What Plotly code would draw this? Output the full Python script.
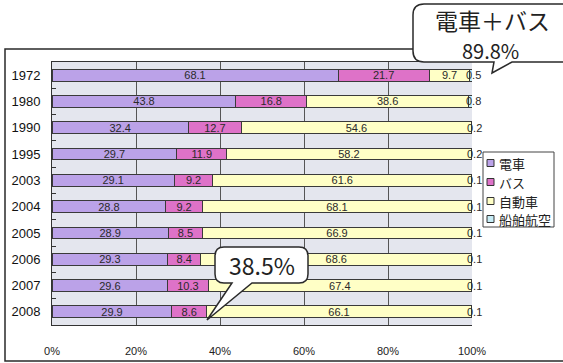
import plotly.graph_objects as go

# Share of passenger transport by mode (percent), per year
years = ["1972", "1980", "1990", "1995", "2003", "2004", "2005", "2006", "2007", "2008"]
train = [68.1, 43.8, 32.4, 29.7, 29.1, 28.8, 28.9, 29.3, 29.6, 29.9]
bus = [21.7, 16.8, 12.7, 11.9, 9.2, 9.2, 8.5, 8.4, 10.3, 8.6]
car = [9.7, 38.6, 54.6, 58.2, 61.6, 68.1, 66.9, 68.6, 67.4, 66.1]
ship_air = [0.5, 0.8, 0.2, 0.2, 0.1, 0.1, 0.1, 0.1, 0.1, 0.1]

series_names = ["電車", "バス", "自動車", "船舶航空"]
series_values = [train, bus, car, ship_air]
series_colors = ["#bba2e8", "#de72c8", "#ffffc6", "#c6ecf6"]

x_ticks = [0, 20, 40, 60, 80, 100]
x_tick_labels = [f"{v}%" for v in x_ticks]

W, H = 563, 363
L, R, T, B = 52, 91, 62, 38
PW, PH = W - L - R, H - T - B


def px(x):
    return (x - L) / PW


def py(y):
    return (H - B - y) / PH


def callout_path(x0, y0, x1, y1, r, base_a, base_b, tip):
    """Rounded box with a speech pointer leaving the bottom edge."""
    pts = [
        f"M {px(x0 + r)},{py(y0)}",
        f"L {px(x1 - r)},{py(y0)}",
        f"Q {px(x1)},{py(y0)} {px(x1)},{py(y0 + r)}",
        f"L {px(x1)},{py(y1 - r)}",
        f"Q {px(x1)},{py(y1)} {px(x1 - r)},{py(y1)}",
        f"L {px(base_b)},{py(y1)}",
        f"L {px(tip[0])},{py(tip[1])}",
        f"L {px(base_a)},{py(y1)}",
        f"L {px(x0 + r)},{py(y1)}",
        f"Q {px(x0)},{py(y1)} {px(x0)},{py(y1 - r)}",
        f"L {px(x0)},{py(y0 + r)}",
        f"Q {px(x0)},{py(y0)} {px(x0 + r)},{py(y0)}",
        "Z",
    ]
    return " ".join(pts)


label_font = dict(family="Liberation Sans, Arial", size=11, color="#2a2a2a")
cjk = "Noto Sans CJK JP"

fig = go.Figure()
for i, (name, vals, color) in enumerate(zip(series_names, series_values, series_colors)):
    last = i == len(series_names) - 1
    fig.add_trace(go.Bar(
        y=years, x=vals, name=name, orientation="h",
        marker=dict(color=color, line=dict(color="#3a3a3a", width=1)),
        text=None if last else [f"{v:.1f}" for v in vals],
        textposition="none" if last else "inside",
        insidetextanchor="middle", constraintext="none",
        textfont=label_font,
        hoverinfo="skip",
    ))

# labels for the thin last segment, centred on it (bars are normalised to 100%)
annotations = []
for j, yr in enumerate(years):
    total = sum(s[j] for s in series_values)
    before = sum(s[j] for s in series_values[:-1])
    centre = (before + ship_air[j] / 2) / total * 100
    annotations.append(dict(
        x=centre, y=j, xref="x", yref="y", text=f"{ship_air[j]:.1f}",
        showarrow=False, xanchor="center", yanchor="middle", xshift=3,
        font=label_font,
    ))

shapes = [
    # outer chart frame
    dict(type="rect", xref="paper", yref="paper",
         x0=px(5), y0=py(361), x1=px(590), y1=py(49),
         line=dict(color="#2a2a2a", width=1.5), layer="below"),
    # callout: train + bus share in 1972
    dict(type="path", xref="paper", yref="paper",
         path=callout_path(413, 4, 585, 62, 11, 494, 512, (492, 73)),
         fillcolor="white", line=dict(color="#2a2a2a", width=1.5), layer="above"),
    # callout: train + bus share in 2008
    dict(type="path", xref="paper", yref="paper",
         path=callout_path(215, 247, 308, 283, 9, 232, 252, (207, 320)),
         fillcolor="white", line=dict(color="#2a2a2a", width=1.5), layer="above"),
    # legend box
    dict(type="rect", xref="paper", yref="paper",
         x0=px(483), y0=py(227), x1=px(554), y1=py(152),
         fillcolor="white", line=dict(color="#444444", width=1), layer="above"),
]

# legend entries: swatch + name
legend_rows = [163, 182, 201, 219]
for name, color, row in zip(series_names, series_colors, legend_rows):
    shapes.append(dict(
        type="rect", xref="paper", yref="paper",
        x0=px(487), x1=px(494), y0=py(row + 3.5), y1=py(row - 3.5),
        fillcolor=color, line=dict(color="#333333", width=1), layer="above",
    ))
    annotations.append(dict(
        xref="paper", yref="paper", x=px(497), y=py(row), text=name,
        showarrow=False, xanchor="left", yanchor="middle",
        font=dict(family=cjk, size=13, color="#222222"),
    ))

annotations += [
    dict(xref="paper", yref="paper", x=px(492), y=py(20), text="電車＋バス",
         showarrow=False, font=dict(family=cjk, size=23, color="#222222"),
         xanchor="center", yanchor="middle"),
    dict(xref="paper", yref="paper", x=px(490), y=py(50), text="89.8%",
         showarrow=False, font=dict(family=cjk, size=20, color="#222222"),
         xanchor="center", yanchor="middle"),
    dict(xref="paper", yref="paper", x=px(262), y=py(265), text="38.5%",
         showarrow=False, font=dict(family=cjk, size=23, color="#222222"),
         xanchor="center", yanchor="middle"),
]

fig.update_layout(
    width=W, height=H,
    margin=dict(l=L, r=R, t=T, b=B, pad=0, autoexpand=False),
    barmode="stack", barnorm="percent", bargap=0.55,
    paper_bgcolor="white", plot_bgcolor="#e4e6ee",
    uniformtext=dict(minsize=11, mode="show"),
    showlegend=False,
    shapes=shapes,
    annotations=annotations,
    xaxis=dict(
        range=[0, 100], tickmode="array", tickvals=x_ticks, ticktext=x_tick_labels,
        showgrid=True, gridcolor="#555555", gridwidth=1,
        showline=True, linecolor="#333333", linewidth=1, mirror=True,
        zeroline=False, ticks="", ticklabelstandoff=16,
        tickfont=dict(family="Liberation Sans, Arial", size=11, color="#222222"),
        fixedrange=True,
    ),
    yaxis=dict(
        type="category",
        categoryorder="array", categoryarray=years, autorange="reversed",
        showline=True, linecolor="#333333", linewidth=1,
        ticks="inside", tickson="boundaries", ticklen=4, tickcolor="#333333",
        showgrid=False, ticklabelstandoff=8,
        tickfont=dict(family="Liberation Sans, Arial", size=13, color="#111111"),
        fixedrange=True,
    ),
)

fig.write_html("out.html")
